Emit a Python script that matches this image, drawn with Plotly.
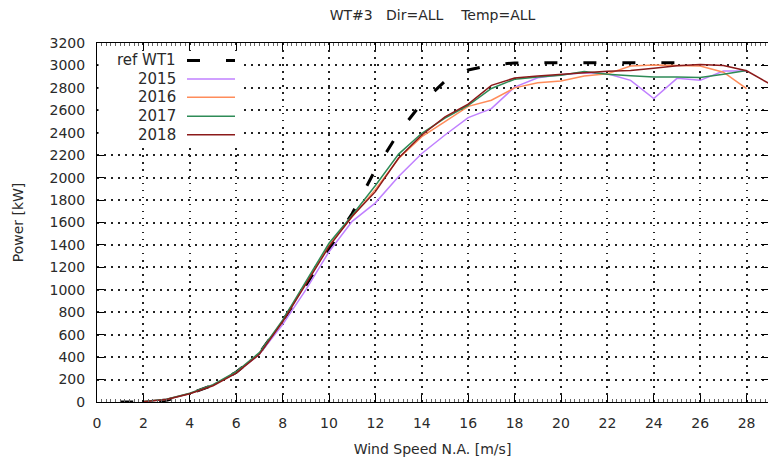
import plotly.graph_objects as go

# ---------------- data ----------------
ref_x = [1, 2, 3, 4, 5, 6, 7, 8, 9, 10, 11, 12, 13, 14, 15, 16, 17, 18, 19, 20, 21, 22, 23, 24, 25]
ref_y = [0, 0, 15, 75, 150, 265, 435, 720, 1040, 1360, 1680, 2070, 2400, 2665, 2860, 2960, 3005, 3022,
         3025, 3025, 3025, 3025, 3025, 3025, 3025]

yr_x = [2, 3, 4, 5, 6, 7, 8, 9, 10, 11, 12, 13, 14, 15, 16, 17, 18, 19, 20, 21, 22, 23, 24, 25, 26, 27, 28]
y2015 = [5, 25, 75, 150, 262, 425, 690, 1000, 1340, 1610, 1775, 2010, 2215, 2380, 2535, 2615, 2807, 2890,
         2917, 2935, 2926, 2867, 2704, 2885, 2867, 2950, 2950]
y2016 = [5, 25, 75, 150, 265, 435, 720, 1060, 1400, 1650, 1895, 2170, 2365, 2500, 2635, 2690, 2800, 2845,
         2862, 2905, 2925, 2995, 3005, 3000, 2995, 2940, 2793]
y2017 = [5, 25, 78, 155, 270, 440, 730, 1070, 1415, 1665, 1930, 2210, 2395, 2530, 2645, 2795, 2877, 2897,
         2912, 2945, 2922, 2908, 2896, 2896, 2893, 2922, 2955]
x2018 = yr_x + [29]
y2018 = [3, 22, 73, 145, 258, 425, 715, 1055, 1385, 1655, 1875, 2175, 2380, 2541, 2655, 2822, 2888, 2905,
         2917, 2935, 2948, 2955, 2975, 2997, 3009, 3000, 2952, 2835]

series_names = ["ref WT1", "2015", "2016", "2017", "2018"]
series_colors = ["#000000", "#c080ff", "#ff8c5a", "#2e8b57", "#8b1a1a"]

x_ticks = list(range(0, 30, 2))
y_ticks = list(range(0, 3201, 200))

title_text = "WT#3   Dir=ALL    Temp=ALL"
x_title = "Wind Speed N.A. [m/s]"
y_title = "Power [kW]"

# ---------------- layout constants ----------------
W, H = 768, 463
L, R_PX, T, B_PX = 97, 768, 42.5, 402.5
FONT = "DejaVu Sans"
TXT = "#2a2a2a"


def px_to_paper(px, py):
    return (px - L) / (R_PX - L), (B_PX - py) / (B_PX - T)


fig = go.Figure()

xs = [ref_x, yr_x, yr_x, yr_x, x2018]
ys = [ref_y, y2015, y2016, y2017, y2018]
for i, (name, col) in enumerate(zip(series_names, series_colors)):
    if i == 0:
        line = dict(color=col, width=3, dash="13px,26px")
    else:
        line = dict(color=col, width=1.5)
    fig.add_trace(go.Scatter(x=xs[i], y=ys[i], mode="lines", name=name, line=line,
                             showlegend=False, cliponaxis=True))

# custom gnuplot-like legend (opaque box, text left, sample right)
shapes = []
annotations = []
bx0, by0 = px_to_paper(L + 1.5, 143)
bx1, by1 = px_to_paper(243, T + 8)
shapes.append(dict(type="rect", xref="paper", yref="paper", x0=bx0, x1=bx1, y0=by0, y1=by1,
                   fillcolor="white", line=dict(width=0), layer="above"))
leg_rows = [60, 78.5, 97, 116, 134.5]
for i, (name, col) in enumerate(zip(series_names, series_colors)):
    py = leg_rows[i]
    tx, ty = px_to_paper(178, py)
    annotations.append(dict(x=tx, y=ty, xref="paper", yref="paper", text=name, showarrow=False,
                            xanchor="right", yanchor="middle", font=dict(family=FONT, size=15, color=TXT)))
    x0, y0 = px_to_paper(187, py)
    x1, _ = px_to_paper(235, py)
    if i == 0:
        ln = dict(color=col, width=3, dash="13px,26px")
    else:
        ln = dict(color=col, width=1.5)
    shapes.append(dict(type="line", xref="paper", yref="paper", x0=x0, x1=x1, y0=y0, y1=y0, line=ln,
                       layer="above"))

fig.update_layout(
    width=W, height=H,
    margin=dict(l=L, r=W - R_PX, t=T, b=H - B_PX),
    paper_bgcolor="white", plot_bgcolor="white",
    font=dict(family=FONT, size=14, color=TXT),
    title=dict(text=title_text, x=(L + R_PX) / 2 / W, xanchor="center", y=1 - 15 / H,
               yanchor="middle", font=dict(family=FONT, size=14, color=TXT)),
    shapes=shapes, annotations=annotations, showlegend=False,
)

GRID = dict(showgrid=True, gridcolor="#222222", gridwidth=1.5, griddash="1.5px,5.5px")

fig.update_xaxes(
    range=[0, (R_PX - L) / 23.2], tickvals=x_ticks, ticktext=[str(v) for v in x_ticks],
    ticks="inside", ticklen=7, tickcolor="#000", tickwidth=1,
    showline=True, linecolor="#000", linewidth=1, mirror="ticks",
    zeroline=False, ticklabelstandoff=8,
    minor=dict(dtick=0.2, ticks="inside", ticklen=3, tickcolor="#666"),
    title=dict(text=x_title, standoff=14, font=dict(family=FONT, size=14, color=TXT)),
    tickfont=dict(family=FONT, size=14, color=TXT),
    **GRID,
)
fig.update_yaxes(
    range=[0, 3200], tickvals=y_ticks, ticktext=[str(v) for v in y_ticks],
    ticks="inside", ticklen=7, tickcolor="#000", tickwidth=1,
    showline=True, linecolor="#000", linewidth=1, mirror="ticks",
    zeroline=False, ticklabelstandoff=8,
    title=dict(text=y_title, standoff=22, font=dict(family=FONT, size=14, color=TXT)),
    tickfont=dict(family=FONT, size=14, color=TXT),
    **GRID,
)

fig.write_html("out.html")
